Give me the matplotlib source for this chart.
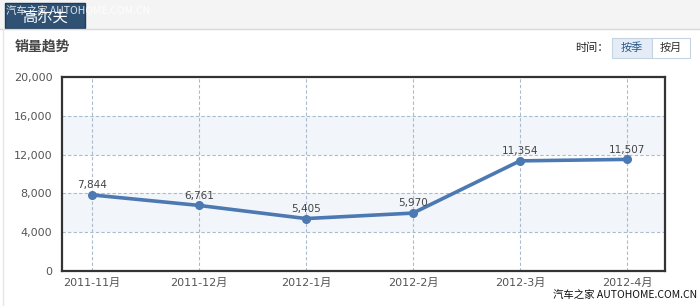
import matplotlib
matplotlib.use('Agg')
import matplotlib.pyplot as plt
import matplotlib.patches as mpatches

plt.rcParams['font.family'] = ['DejaVu Sans', 'Noto Sans CJK SC']

# data
months = ['2011-11月', '2011-12月', '2012-1月', '2012-2月', '2012-3月', '2012-4月']
sales = [7844, 6761, 5405, 5970, 11354, 11507]
yticks = [0, 4000, 8000, 12000, 16000, 20000]

W, H = 700, 306
fig = plt.figure(figsize=(W / 100, H / 100), dpi=100, facecolor='white')

def fx(px):
    return px / W

def fy(py):
    return 1 - py / H

# page chrome: top strip, tab, separator
fig.patches.append(mpatches.Rectangle((0, fy(29)), 1, 29 / H, transform=fig.transFigure,
                                      facecolor='#f4f4f4', edgecolor='none', zorder=0))
fig.patches.append(mpatches.Rectangle((fx(5), fy(28)), 80 / W, 25 / H, transform=fig.transFigure,
                                      facecolor='#2f5274', edgecolor='#1f3d5a', zorder=1))
fig.lines.append(plt.Line2D([0, 1], [fy(29), fy(29)], transform=fig.transFigure,
                            color='#d8d8d8', linewidth=1))
fig.lines.append(plt.Line2D([fx(3), fx(3)], [0, fy(29)], transform=fig.transFigure,
                            color='#e6e6e6', linewidth=1))
fig.text(fx(45), fy(17), '高尔夫', color='white', fontsize=11, ha='center', va='center',
         family=['Noto Sans CJK SC'], zorder=3)
# site watermark drawn over the tab, as in the screenshot
fig.text(fx(6), fy(12), '汽车之家 AUTOHOME.COM.CN', color='white', fontsize=7.5, ha='left',
         va='center', family=['Noto Sans CJK SC', 'DejaVu Sans'], alpha=0.85, zorder=4)

fig.text(fx(15), fy(47), '销量趋势', color='#444444', fontsize=10, fontweight='bold',
         ha='left', va='center', family=['Noto Sans CJK SC'])

# time buttons
fig.text(fx(609), fy(48), '时间：', color='#222222', fontsize=8, ha='right', va='center',
         family=['Noto Sans CJK SC'])
fig.patches.append(mpatches.Rectangle((fx(612), fy(58)), 40 / W, 20 / H, transform=fig.transFigure,
                                      facecolor='#e4edf7', edgecolor='#c6d3e2', linewidth=0.8))
fig.patches.append(mpatches.Rectangle((fx(652), fy(58)), 38 / W, 20 / H, transform=fig.transFigure,
                                      facecolor='white', edgecolor='#c6d3e2', linewidth=0.8))
fig.text(fx(632), fy(48), '按季', color='#2a5a8a', fontsize=8, ha='center', va='center',
         family=['Noto Sans CJK SC'])
fig.text(fx(671), fy(48), '按月', color='#333333', fontsize=8, ha='center', va='center',
         family=['Noto Sans CJK SC'])

# chart
ax = fig.add_axes([fx(62), fy(271), 603 / W, 194 / H])
x = list(range(len(months)))
ax.set_xlim(-0.28, len(months) - 1 + 0.355)
ax.set_ylim(0, 20000)

for lo in (4000, 12000):
    ax.axhspan(lo, lo + 4000, facecolor='#f2f6fb', edgecolor='none', zorder=0)
for t in yticks[1:-1]:
    ax.axhline(t, color='#a9bccf', linewidth=0.8, linestyle=(0, (3, 2)), zorder=1)
for xi in x:
    ax.axvline(xi, color='#a9bccf', linewidth=0.8, linestyle=(0, (3, 2)), zorder=1)

ax.plot(x, sales, color='#4c79b1', linewidth=2.6, marker='o', markersize=5.5,
        solid_capstyle='round', zorder=3)
for xi, v in zip(x, sales):
    ax.annotate(f'{v:,}', (xi, v), xytext=(0, 3.5), textcoords='offset points',
                ha='center', va='bottom', fontsize=7.5, color='#444444', zorder=4)

ax.set_yticks(yticks)
ax.set_yticklabels([f'{t:,}' for t in yticks])
ax.set_xticks(x)
ax.set_xticklabels(months)
ax.tick_params(length=0, labelsize=8, labelcolor='#555555')
ax.tick_params(axis='y', pad=7)
ax.tick_params(axis='x', pad=5)
for s in ax.spines.values():
    s.set_color('#333333')
    s.set_linewidth(1.6)

fig.text(fx(697), fy(296), '汽车之家 AUTOHOME.COM.CN', color='#111111', fontsize=7.5,
         ha='right', va='center', family=['Noto Sans CJK SC', 'DejaVu Sans'])

fig.savefig('out.png', dpi=100, facecolor='white')
